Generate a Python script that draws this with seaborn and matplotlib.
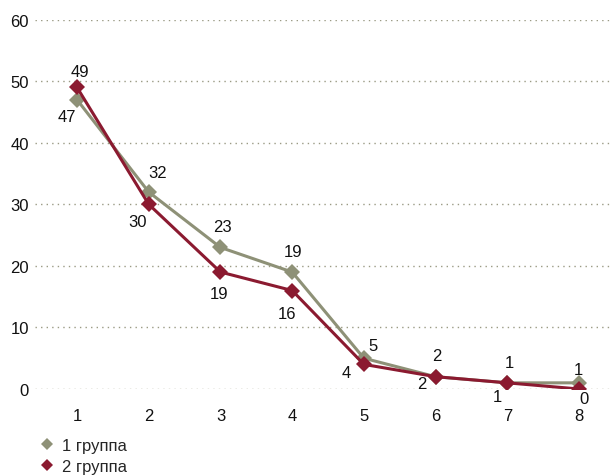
import matplotlib
matplotlib.use("Agg")
import matplotlib.pyplot as plt
from matplotlib.lines import Line2D
import seaborn as sns
import pandas as pd

# Data
categories = [1, 2, 3, 4, 5, 6, 7, 8]
group1 = [47, 32, 23, 19, 5, 2, 1, 1]
group2 = [49, 30, 19, 16, 4, 2, 1, 0]
series_names = ["1 группа", "2 группа"]
y_ticks = [0, 10, 20, 30, 40, 50, 60]

# Label offsets (pixels) relative to each marker
off1 = [(-10, -17), (9, 20), (2, 21), (1, 21), (9, 13), (1, 21), (2, 20), (-1, 13)]
off2 = [(3, 16), (-11, -17), (-1, -21), (-5, -23), (-18, -8), (-14, -7), (-10, -14), (5, -10)]

colors = {"1 группа": "#8e9177", "2 группа": "#8b1a30"}

df = pd.DataFrame({
    "x": categories * 2,
    "y": group1 + group2,
    "series": [series_names[0]] * len(categories) + [series_names[1]] * len(categories),
})

sns.set_theme(style="white")
plt.rcParams["font.family"] = ["Liberation Sans", "DejaVu Sans"]

fig = plt.figure(figsize=(6.13, 4.77), dpi=100)
W, H = 613, 477
ax = fig.add_axes([35 / W, (H - 390) / H, (613 - 35) / W, (390 - 20.7) / H])

sns.lineplot(
    data=df, x="x", y="y", hue="series", style="series",
    palette=colors, markers={"1 группа": "D", "2 группа": "D"},
    dashes=False, linewidth=2.2, markersize=8, markeredgewidth=0,
    legend=False, ax=ax, zorder=3,
)

ax.set_xlim(0.414, 8.474)
ax.set_ylim(0, 60)
ax.set_yticks(y_ticks)
ax.set_xticks(categories)
ax.set_xticklabels([str(c) for c in categories])
ax.set_xlabel("")
ax.set_ylabel("")
for s in ax.spines.values():
    s.set_visible(False)
ax.grid(False)
for yv in y_ticks:
    ax.axhline(yv, color="#9a9a84", linestyle=(0, (1, 3)), linewidth=1.0, zorder=1)
ax.tick_params(axis="y", length=0, pad=4.3, labelsize=12, labelcolor="#111111")
ax.tick_params(axis="x", length=0, pad=14, labelsize=12, labelcolor="#111111")

for vals, offs in ((group1, off1), (group2, off2)):
    for xv, yv, (dx, dy) in zip(categories, vals, offs):
        ax.annotate(str(yv), (xv, yv), xytext=(dx, dy), textcoords="offset pixels",
                    ha="center", va="center", fontsize=12, color="#111111")

handles = [Line2D([], [], color=colors[n], marker="D", linestyle="none",
                  markersize=6.5, markeredgewidth=0) for n in series_names]
fig.legend(handles, series_names, loc="upper left",
           bbox_to_anchor=(39 / W, (H - 439) / H), frameon=False,
           fontsize=12, handlelength=1.0, handletextpad=0.4,
           labelspacing=0.35, borderpad=0, borderaxespad=0)

fig.savefig("out.png", dpi=100)
